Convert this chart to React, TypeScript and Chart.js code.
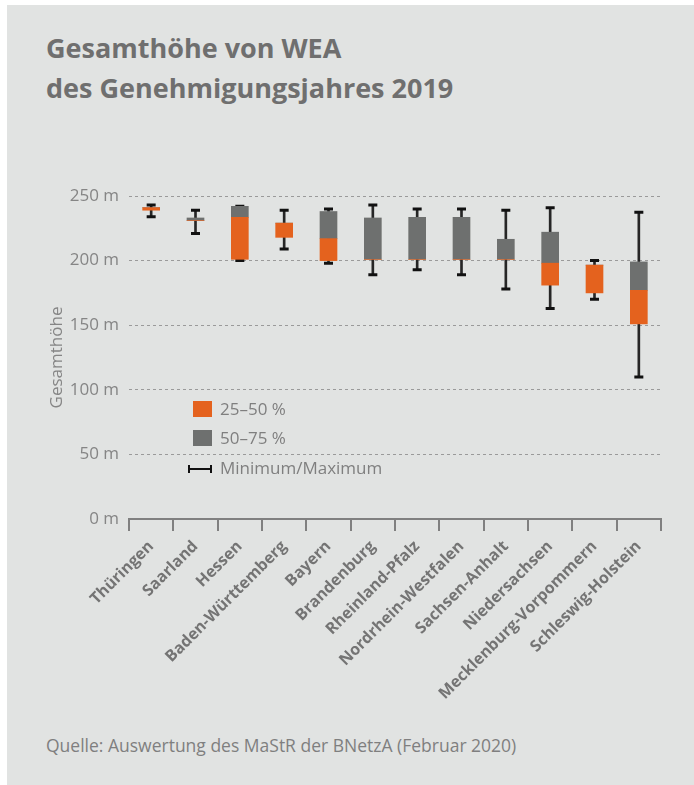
import React, { useEffect, useRef } from "react";
import { Chart, registerables } from "chart.js";

Chart.register(...registerables);

const categories = [
  "Thüringen",
  "Saarland",
  "Hessen",
  "Baden-Württemberg",
  "Bayern",
  "Brandenburg",
  "Rheinland-Pfalz",
  "Nordrhein-Westfalen",
  "Sachsen-Anhalt",
  "Niedersachsen",
  "Mecklenburg-Vorpommern",
  "Schleswig-Holstein",
];
const minimum = [234, 221, 200, 209, 198, 189, 193, 189, 178, 163, 170, 110];
const quartile1 = [239, 231, 201, 218, 200, 201, 201, 201, 201, 181, 175, 151];
const median = [241, 231, 233.5, 229, 217, 201, 201, 201, 201, 198, 196.5, 177];
const quartile3 = [241, 233, 242, 229, 238, 233, 233.5, 233.5, 216.5, 222, 196.5, 199];
const maximum = [243, 239, 242, 239, 240, 243, 240, 240, 239, 241, 200, 237.5];
const yTicks = [0, 50, 100, 150, 200, 250];

const ORANGE = "#E4621E";
const GRAY = "#6E706F";
const FONT = "'Open Sans', 'Noto Sans', sans-serif";

export default function App() {
  const canvasRef = useRef<HTMLCanvasElement | null>(null);

  useEffect(() => {
    const canvas = canvasRef.current;
    if (!canvas) return;
    const chart = new Chart(canvas, {
      type: "bar",
      data: {
        labels: categories,
        datasets: [
          {
            type: "bar",
            label: "25–50 %",
            data: categories.map((_, i) => [quartile1[i], median[i]]),
            backgroundColor: ORANGE,
            barThickness: 17,
            grouped: false,
            order: 1,
          } as any,
          {
            type: "bar",
            label: "50–75 %",
            data: categories.map((_, i) => [median[i], quartile3[i]]),
            backgroundColor: GRAY,
            barThickness: 17,
            grouped: false,
            order: 1,
          } as any,
          {
            type: "bar",
            label: "Whisker",
            data: categories.map((_, i) => [minimum[i], maximum[i]]),
            backgroundColor: "#262626",
            barThickness: 2,
            grouped: false,
            order: 3,
          } as any,
          {
            type: "line",
            label: "Maximum",
            data: maximum,
            showLine: false,
            pointStyle: "line",
            pointRadius: 4.5,
            pointBorderWidth: 3,
            pointBorderColor: "#111",
            pointBackgroundColor: "#111",
            order: 2,
          } as any,
          {
            type: "line",
            label: "Minimum",
            data: minimum,
            showLine: false,
            pointStyle: "line",
            pointRadius: 4.5,
            pointBorderWidth: 3,
            pointBorderColor: "#111",
            pointBackgroundColor: "#111",
            order: 2,
          } as any,
        ],
      },
      options: {
        responsive: false,
        animation: false,
        layout: { padding: { top: 46, right: 33, left: 0, bottom: 0 } },
        plugins: {
          legend: { display: false },
          tooltip: { enabled: false },
          title: { display: false },
        },
        scales: {
          x: {
            offset: true,
            grid: {
              display: true,
              drawOnChartArea: false,
              drawTicks: true,
              tickLength: 12,
              color: "#808080",
              lineWidth: 2,
              offset: true,
            },
            border: { display: true, color: "#808080", width: 2 },
            ticks: {
              autoSkip: false,
              maxRotation: 45,
              minRotation: 45,
              padding: 6,
              color: "#747474",
              font: { family: FONT, size: 16, weight: "bold" },
            },
            afterFit: (s: any) => {
              s.height = 201;
            },
          },
          y: {
            min: 0,
            max: 250,
            afterBuildTicks: (s: any) => {
              s.ticks = yTicks.map((v) => ({ value: v }));
            },
            ticks: {
              padding: 10,
              color: "#858585",
              font: { family: FONT, size: 17 },
              callback: (v: any) => `${v} m`,
            },
            grid: {
              drawTicks: false,
              lineWidth: 1,
              color: (ctx: any) => (ctx.tick && ctx.tick.value === 0 ? "rgba(0,0,0,0)" : "#9a9a9a"),
            },
            border: { display: false, dash: [3, 3] },
            title: {
              display: true,
              text: "Gesamthöhe",
              color: "#858585",
              font: { family: FONT, size: 17 },
              padding: { top: 39.5, bottom: 0 },
            },
            afterFit: (s: any) => {
              s.width = 122;
            },
          },
        },
      } as any,
    });
    return () => chart.destroy();
  }, []);

  const legendText: React.CSSProperties = {
    position: "absolute",
    left: 213,
    fontFamily: FONT,
    fontSize: 17,
    lineHeight: "22px",
    color: "#7f7f7f",
    whiteSpace: "nowrap",
  };

  return (
    <div
      style={{
        position: "absolute",
        left: 7,
        top: 5,
        width: 687,
        height: 780,
        background: "#e1e3e2",
        overflow: "hidden",
      }}
    >
      <div
        style={{
          position: "absolute",
          left: 39,
          top: 23,
          fontFamily: FONT,
          fontWeight: 700,
          fontSize: 27,
          lineHeight: "40px",
          color: "#6f6f6f",
          whiteSpace: "nowrap",
        }}
      >
        Gesamthöhe von WEA
        <br />
        des Genehmigungsjahres 2019
      </div>

      <canvas
        ref={canvasRef}
        width={687}
        height={570}
        style={{ position: "absolute", left: 0, top: 145, width: 687, height: 570 }}
      />

      <div style={{ position: "absolute", left: 186, top: 396, width: 19, height: 16, background: ORANGE }} />
      <div style={{ ...legendText, top: 393 }}>25–50 %</div>
      <div style={{ position: "absolute", left: 186, top: 425, width: 19, height: 16, background: GRAY }} />
      <div style={{ ...legendText, top: 422 }}>50–75 %</div>
      <div style={{ position: "absolute", left: 181, top: 463, width: 24, height: 2, background: "#111" }} />
      <div style={{ position: "absolute", left: 181, top: 460, width: 2, height: 8, background: "#111" }} />
      <div style={{ position: "absolute", left: 203, top: 460, width: 2, height: 8, background: "#111" }} />
      <div style={{ ...legendText, top: 452 }}>Minimum/Maximum</div>

      <div
        style={{
          position: "absolute",
          left: 39,
          top: 728,
          fontFamily: FONT,
          fontSize: 17.5,
          lineHeight: "24px",
          color: "#7f7f7f",
          whiteSpace: "nowrap",
        }}
      >
        Quelle: Auswertung des MaStR der BNetzA (Februar 2020)
      </div>
    </div>
  );
}
